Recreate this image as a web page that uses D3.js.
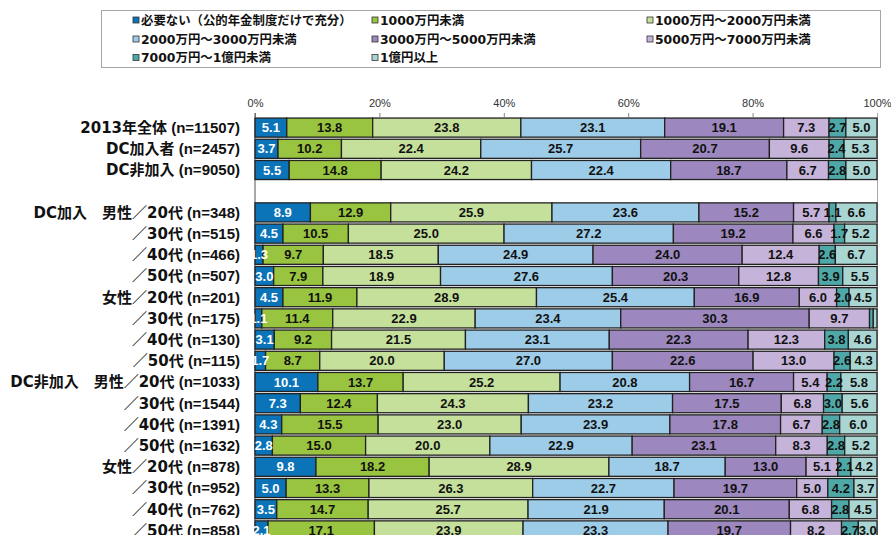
<!DOCTYPE html>
<html>
<head>
<meta charset="utf-8">
<script src="https://cdn.jsdelivr.net/npm/d3@7"></script>
<style>
  body { margin: 0; background: #fff; }
</style>
</head>
<body>
<div id="chart"></div>
<script>
// rows (top to bottom); a blank gap follows the third row
const rowLabels = [
  "2013年全体", "DC加入者", "DC非加入",
  "DC加入　男性／20代", "／30代", "／40代", "／50代",
  "女性／20代", "／30代", "／40代", "／50代",
  "DC非加入　男性／20代", "／30代", "／40代", "／50代",
  "女性／20代", "／30代", "／40代", "／50代"
];
const rowN = [11507, 2457, 9050, 348, 515, 466, 507, 201, 175, 130, 115, 1033, 1544, 1391, 1632, 878, 952, 762, 858];

const seriesNames = [
  "必要ない（公的年金制度だけで充分）",
  "1000万円未満",
  "1000万円～2000万円未満",
  "2000万円～3000万円未満",
  "3000万円～5000万円未満",
  "5000万円～7000万円未満",
  "7000万円～1億円未満",
  "1億円以上"
];

const notNeeded   = [5.1, 3.7, 5.5, 8.9, 4.5, 1.3, 3.0, 4.5, 1.1, 3.1, 1.7, 10.1, 7.3, 4.3, 2.8, 9.8, 5.0, 3.5, 2.1];
const under1000   = [13.8, 10.2, 14.8, 12.9, 10.5, 9.7, 7.9, 11.9, 11.4, 9.2, 8.7, 13.7, 12.4, 15.5, 15.0, 18.2, 13.3, 14.7, 17.1];
const from1000    = [23.8, 22.4, 24.2, 25.9, 25.0, 18.5, 18.9, 28.9, 22.9, 21.5, 20.0, 25.2, 24.3, 23.0, 20.0, 28.9, 26.3, 25.7, 23.9];
const from2000    = [23.1, 25.7, 22.4, 23.6, 27.2, 24.9, 27.6, 25.4, 23.4, 23.1, 27.0, 20.8, 23.2, 23.9, 22.9, 18.7, 22.7, 21.9, 23.3];
const from3000    = [19.1, 20.7, 18.7, 15.2, 19.2, 24.0, 20.3, 16.9, 30.3, 22.3, 22.6, 16.7, 17.5, 17.8, 23.1, 13.0, 19.7, 20.1, 19.7];
const from5000    = [7.3, 9.6, 6.7, 5.7, 6.6, 12.4, 12.8, 6.0, 9.7, 12.3, 13.0, 5.4, 6.8, 6.7, 8.3, 5.1, 5.0, 6.8, 8.2];
const from7000    = [2.7, 2.4, 2.8, 1.1, 1.7, 2.6, 3.9, 2.0, 0.6, 3.8, 2.6, 2.2, 3.0, 2.8, 2.8, 2.1, 4.2, 2.8, 2.7];
const over1oku    = [5.0, 5.3, 5.0, 6.6, 5.2, 6.7, 5.5, 4.5, 0.6, 4.6, 4.3, 5.8, 5.6, 6.0, 5.2, 4.2, 3.7, 4.5, 3.0];

const tickValues = [0, 20, 40, 60, 80, 100];

const seriesValues = [notNeeded, under1000, from1000, from2000, from3000, from5000, from7000, over1oku];
const seriesColors = ["#0b73b8", "#99c43f", "#c5e09b", "#9dcce8", "#9c87be", "#c6b3da", "#4fa8a8", "#a9d5d3"];
const labelColors  = ["#fff", "#111", "#111", "#111", "#111", "#111", "#111", "#111"];

const width = 891, height = 535;
const svg = d3.select("#chart").append("svg")
  .attr("width", width)
  .attr("height", height)
  .style("font-family", "'Liberation Sans', Arial, 'Noto Sans CJK JP', sans-serif");

// table for the stack
const table = rowLabels.map((label, i) => {
  const row = { label: label, n: rowN[i], idx: i };
  seriesNames.forEach((s, j) => { row[s] = seriesValues[j][i]; });
  return row;
});

// slot keys: gap inserted after the 3rd row
const slotOf = i => (i < 3 ? i : i + 1);
const slots = d3.range(rowLabels.length + 1);

const x = d3.scaleLinear().domain([0, 1]).range([255, 877]);
const y = d3.scaleBand().domain(slots).range([117, 541]).paddingInner(0.1).paddingOuter(0.05);

const stacked = d3.stack().keys(seriesNames).offset(d3.stackOffsetExpand)(table);

// legend
const legend = svg.append("g");
legend.append("rect")
  .attr("x", 101.5).attr("y", 10.5)
  .attr("width", 779).attr("height", 57)
  .attr("fill", "#fff").attr("stroke", "#a6a6a6");

const legCols = [133, 372, 647];
const legRows = [20.5, 39.5, 58];
seriesNames.forEach((name, i) => {
  const g = legend.append("g")
    .attr("transform", `translate(${legCols[i % 3]},${legRows[Math.floor(i / 3)]})`);
  g.append("rect")
    .attr("x", 0).attr("y", -3.5)
    .attr("width", 6).attr("height", 6)
    .attr("fill", seriesColors[i]).attr("stroke", "#333").attr("stroke-width", 0.8);
  g.append("text")
    .attr("x", 8).attr("y", 0)
    .attr("dy", "0.36em")
    .style("font-family", "'DejaVu Sans', 'Noto Sans CJK JP', sans-serif")
    .style("font-size", "12.4px")
    .style("font-weight", "bold")
    .attr("fill", "#111")
    .text(name);
});

// axis on top
const axis = svg.append("g")
  .attr("transform", "translate(0,117)")
  .call(d3.axisTop(x)
    .tickValues(tickValues.map(v => v / 100))
    .tickSize(4)
    .tickPadding(6)
    .tickFormat(d => Math.round(d * 100) + "%"));
axis.select(".domain").remove();
axis.selectAll(".tick line").attr("stroke", "#888");
axis.selectAll(".tick text")
  .attr("fill", "#333")
  .style("font-family", "'Liberation Sans', Arial, sans-serif")
  .style("font-size", "11px");

// 0% and 100% vertical lines
svg.append("line")
  .attr("x1", x(0)).attr("x2", x(0))
  .attr("y1", 113).attr("y2", height)
  .attr("stroke", "#555").attr("stroke-width", 1);
svg.append("line")
  .attr("x1", x(1) + 0.5).attr("x2", x(1) + 0.5)
  .attr("y1", 113).attr("y2", height)
  .attr("stroke", "#aaa").attr("stroke-width", 1);

// bars
const layers = svg.append("g").selectAll("g")
  .data(stacked)
  .join("g")
  .attr("fill", (d, i) => seriesColors[i]);

layers.selectAll("rect")
  .data(d => d)
  .join("rect")
  .attr("x", d => x(d[0]))
  .attr("y", d => y(slotOf(d.data.idx)))
  .attr("width", d => x(d[1]) - x(d[0]))
  .attr("height", y.bandwidth())
  .attr("stroke", "#222")
  .attr("stroke-width", 1.3);

// value labels
stacked.forEach((layer, j) => {
  svg.append("g").selectAll("text")
    .data(layer.filter(d => d.data[seriesNames[j]] >= 1))
    .join("text")
    .attr("x", d => (x(d[0]) + x(d[1])) / 2)
    .attr("y", d => y(slotOf(d.data.idx)) + y.bandwidth() / 2)
    .attr("dy", "0.36em")
    .attr("text-anchor", "middle")
    .attr("fill", labelColors[j])
    .style("font-size", "13px")
    .style("font-weight", "bold")
    .text(d => d.data[seriesNames[j]].toFixed(1));
});

// row labels
const rowText = svg.append("g").selectAll("text")
  .data(table)
  .join("text")
  .attr("x", 240)
  .attr("y", d => y(slotOf(d.idx)) + y.bandwidth() / 2)
  .attr("dy", "0.36em")
  .attr("text-anchor", "end")
  .attr("fill", "#111")
  .style("font-size", "15px")
  .style("font-weight", "bold");
rowText.append("tspan")
  .style("font-family", "'DejaVu Sans', 'Noto Sans CJK JP', sans-serif")
  .text(d => d.label);
rowText.append("tspan")
  .style("font-family", "'Liberation Sans', Arial, sans-serif")
  .text(d => " (n=" + d.n + ")");
</script>
</body>
</html>
